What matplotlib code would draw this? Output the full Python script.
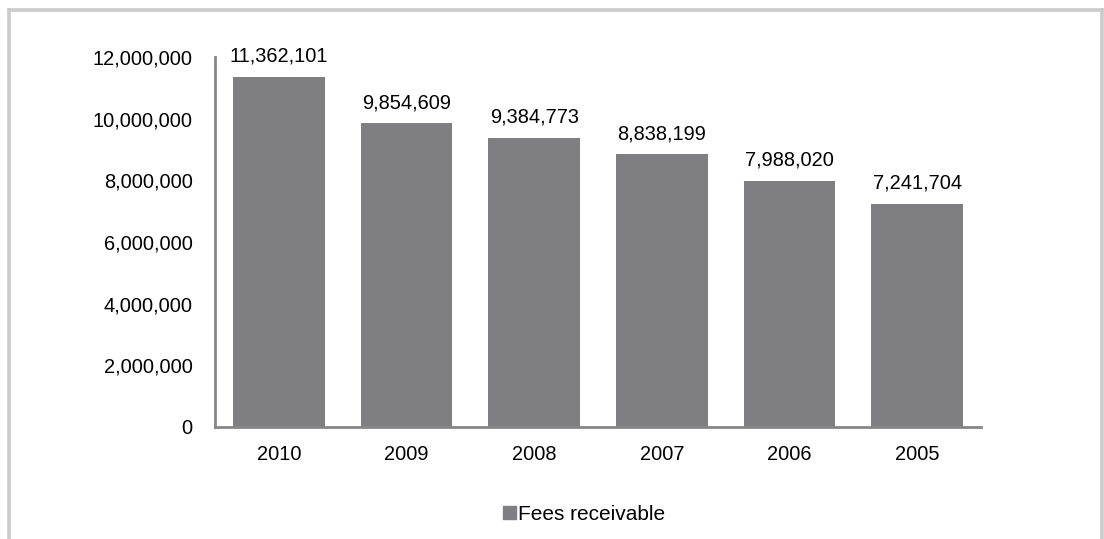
import matplotlib
matplotlib.use("Agg")
import matplotlib.pyplot as plt
from matplotlib.patches import Rectangle
from matplotlib.ticker import FuncFormatter

years = ["2010", "2009", "2008", "2007", "2006", "2005"]
fees_receivable = [11362101, 9854609, 9384773, 8838199, 7988020, 7241704]
series_name = "Fees receivable"
y_ticks = [0, 2000000, 4000000, 6000000, 8000000, 10000000, 12000000]

plt.rcParams["font.family"] = ["Liberation Sans", "DejaVu Sans"]

W, H = 1104, 539
fig = plt.figure(figsize=(W / 100, H / 100), dpi=100)

# light grey outer frame (open at the bottom)
frame_kw = dict(color="#cbcbcb", lw=2.6, transform=fig.transFigure, clip_on=False)
fig.add_artist(plt.Line2D([8.5 / W, 8.5 / W], [0, 1 - 9.5 / H], **frame_kw))
fig.add_artist(plt.Line2D([8.5 / W, 1102 / W], [1 - 9.5 / H, 1 - 9.5 / H], **frame_kw))
fig.add_artist(plt.Line2D([1102 / W, 1102 / W], [0, 1 - 9.5 / H], **frame_kw))

ax_left, ax_right = 215, 981
ax_top, ax_bottom = 57, 427
ax = fig.add_axes([ax_left / W, 1 - ax_bottom / H,
                   (ax_right - ax_left) / W, (ax_bottom - ax_top) / H])

x = list(range(len(years)))
bar_color = "#7f7e82"
ax.bar(x, fees_receivable, width=0.72, color=bar_color, label=series_name, zorder=2)

fs = 14.4
for xi, v in zip(x, fees_receivable):
    ax.annotate(f"{v:,}", (xi, v), xytext=(0, 8), textcoords="offset points",
                ha="center", va="bottom", fontsize=fs, color="#000000")

ax.set_xlim(-0.5, len(years) - 0.5)
ax.set_ylim(0, 12000000)
ax.set_yticks(y_ticks)
ax.yaxis.set_major_formatter(FuncFormatter(lambda v, p: f"{int(v):,}"))
ax.set_xticks(x)
ax.set_xticklabels(years)

for side in ("top", "right"):
    ax.spines[side].set_visible(False)
for side in ("left", "bottom"):
    ax.spines[side].set_color("#868686")
    ax.spines[side].set_linewidth(2)
ax.tick_params(axis="both", length=0, labelsize=fs, colors="#000000")
ax.tick_params(axis="y", pad=16)
ax.tick_params(axis="x", pad=13)

handle = Rectangle((0, 0), 1, 1, color=bar_color)
fig.legend([handle], [series_name], loc="center", bbox_to_anchor=(584 / W, 1 - 514 / H),
           frameon=False, fontsize=15, handlelength=0.6, handleheight=0.6,
           handletextpad=0.1, borderpad=0)

fig.savefig("out.png", dpi=100, facecolor="white")
